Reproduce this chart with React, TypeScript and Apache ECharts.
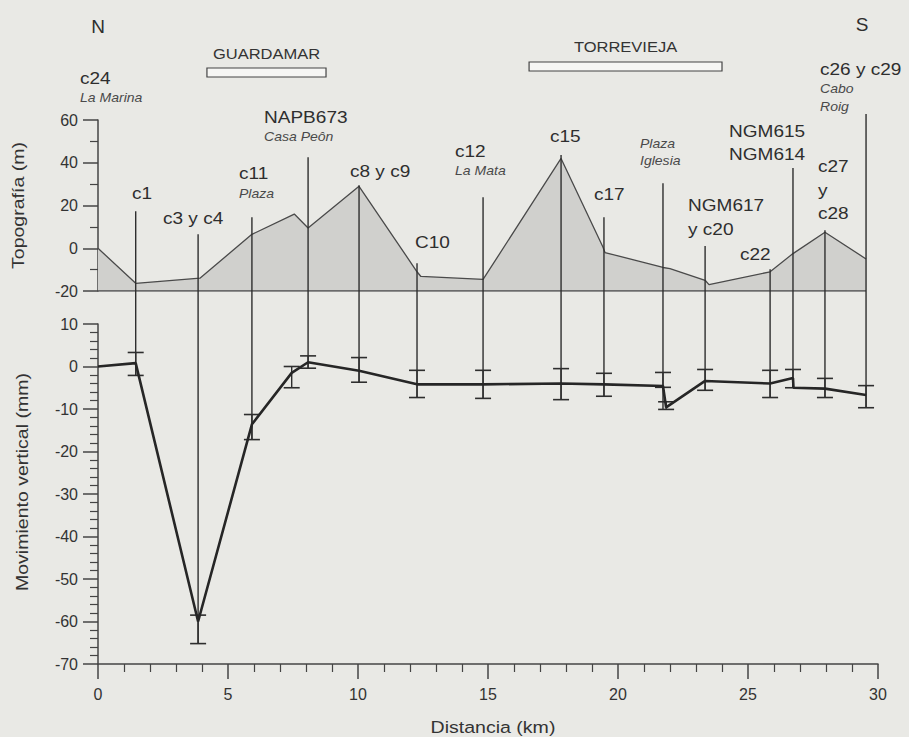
import React, { useEffect, useRef } from "react";
import * as echarts from "echarts";

// ---------- data ----------
// Topography profile (distance km, elevation m)
const TOPO_X = [0, 1.45, 3.92, 5.92, 7.55, 8.08, 10.04, 12.27, 12.42, 14.81, 17.81, 19.42, 19.5, 21.73, 22.0, 23.35, 23.5, 25.85, 26.73, 27.96, 29.54];
const TOPO_Y = [0, -16.4, -14, 6.5, 16, 9.5, 29, -11, -13.2, -14.6, 42, 0.6, -2, -9, -9.5, -15, -17, -11, -2.5, 7.5, -5];

// Vertical movement (distance km, mm)
const MOVE_X = [0, 1.45, 3.85, 5.92, 7.45, 8.08, 10.04, 12.27, 14.81, 17.81, 19.46, 21.73, 21.85, 23.35, 25.85, 26.73, 26.75, 27.96, 29.54];
const MOVE_Y = [0, 0.8, -60, -13.6, -1.5, 1.0, -1.0, -4.2, -4.2, -4.0, -4.2, -4.6, -9.6, -3.4, -4.0, -2.7, -5.0, -5.2, -6.7];

// Error bars (km, low mm, high mm)
const ERR_X = [1.45, 3.85, 5.92, 7.45, 8.08, 10.04, 12.27, 14.81, 17.81, 19.46, 21.73, 21.85, 23.35, 25.85, 26.73, 27.96, 29.54];
const ERR_LOW = [-2.1, -65.2, -17.2, -5.0, -0.4, -3.7, -7.3, -7.5, -7.8, -7.0, -4.9, -10.1, -5.6, -7.3, -5.0, -7.3, -9.7];
const ERR_HIGH = [3.3, -58.5, -11.3, 0.0, 2.5, 2.1, -0.9, -0.9, -0.5, -1.6, -1.4, -8.3, -0.7, -0.9, -0.7, -2.8, -4.5];

// Benchmark vertical lines (km, top in m of topography, bottom in mm of movement)
const BENCH_X = [1.45, 3.85, 5.92, 8.08, 10.04, 12.27, 14.81, 17.81, 19.46, 21.73, 23.35, 25.85, 26.73, 27.96, 29.54];
const BENCH_TOP = [17.3, 6.6, 14.5, 42.6, 29.5, -7, 23.9, 43.6, 14.5, 30.4, 1, -9.8, 37.5, 8.4, 62.8];
const BENCH_BOTTOM = [-2.1, -65.2, -17.2, -0.4, -3.7, -7.3, -7.5, -7.8, -7.0, -10.1, -5.6, -7.3, -5.0, -7.3, -9.7];

// Town extents (km)
const TOWN_NAMES = ["GUARDAMAR", "TORREVIEJA"];
const TOWN_FROM = [4.19, 16.58];
const TOWN_TO = [8.77, 24.0];

// Axis settings
const X_MIN = 0, X_MAX = 30, X_STEP = 5;
const TOPO_MIN = -20, TOPO_MAX = 60, TOPO_STEP = 20;
const MOVE_MIN = -70, MOVE_MAX = 10, MOVE_STEP = 10;

// Point labels
const MAIN_LABELS = ["c24", "c1", "c3 y c4", "c11", "NAPB673", "c8 y c9", "C10", "c12", "c15", "c17", "NGM617", "y c20", "NGM615", "NGM614", "c22", "c27", "y", "c28", "c26 y c29"];
const SUB_LABELS = ["La Marina", "Plaza", "Casa Peôn", "La Mata", "Plaza", "Iglesia", "Cabo", "Roig"];

// ---------- layout ----------
const W = 909, H = 737;
const G1 = { left: 98, top: 120, width: 780, height: 171 };
const G2 = { left: 98, top: 324, width: 780, height: 340 };
const GAP = G2.top - (G1.top + G1.height);
const MAIN_POS = [[80, 78], [132, 193], [163, 218], [239, 173], [264, 117], [350, 171], [415, 242], [455, 151], [550, 136], [594, 194], [688, 205], [688, 229], [729, 131], [729, 154], [740, 254], [818, 166], [818, 190], [818, 213], [820, 69]];
const SUB_POS = [[80, 98], [239, 194], [264, 137], [455, 171], [640, 144], [640, 161], [820, 89], [820, 107]];
const TOWN_BOX_Y = [68, 62];
const TOWN_TEXT_Y = [54, 47];

const FONT = "Liberation Sans, Arial, Helvetica, sans-serif";
const INK = "#2e2e2e";
const BG = "#e9e9e5";

export default function App() {
  const ref = useRef<HTMLDivElement>(null);
  useEffect(() => {
    document.body.style.margin = "0";
    document.body.style.background = BG;
    const chart = echarts.init(ref.current!, null, { renderer: "svg" });

    const axisLine = { show: true, onZero: false, lineStyle: { color: "#444", width: 1.5 } };
    const axisLabel = { color: "#333", fontSize: 16, fontFamily: FONT };

    const option: any = {
      animation: false,
      backgroundColor: BG,
      grid: [
        { ...G1, containLabel: false },
        { ...G2, containLabel: false },
      ],
      xAxis: [
        { type: "value", gridIndex: 0, min: X_MIN, max: X_MAX, show: false },
        {
          type: "value", gridIndex: 1, min: X_MIN, max: X_MAX, interval: X_STEP,
          axisLine, splitLine: { show: false },
          axisTick: { show: true, length: 15, lineStyle: { color: "#444", width: 1.5 } },
          minorTick: { show: true, splitNumber: 5, length: 8, lineStyle: { color: "#444", width: 1.2 } },
          axisLabel: { ...axisLabel, margin: 22 },
        },
      ],
      yAxis: [
        {
          type: "value", gridIndex: 0, min: TOPO_MIN, max: TOPO_MAX, interval: TOPO_STEP,
          axisLine, splitLine: { show: false },
          axisTick: { show: true, length: 15, lineStyle: { color: "#444", width: 1.5 } },
          minorTick: { show: true, splitNumber: 2, length: 8, lineStyle: { color: "#444", width: 1.2 } },
          axisLabel: { ...axisLabel, margin: 20 },
        },
        {
          type: "value", gridIndex: 1, min: MOVE_MIN, max: MOVE_MAX, interval: MOVE_STEP,
          axisLine, splitLine: { show: false },
          axisTick: { show: true, length: 15, lineStyle: { color: "#444", width: 1.5 } },
          minorTick: { show: true, splitNumber: 5, length: 8, lineStyle: { color: "#444", width: 1.2 } },
          axisLabel: { ...axisLabel, margin: 20 },
        },
      ],
      series: [
        {
          type: "line", xAxisIndex: 0, yAxisIndex: 0,
          data: TOPO_X.map((x, i) => [x, TOPO_Y[i]]),
          showSymbol: false, symbol: "none",
          lineStyle: { color: "#4a4a4a", width: 1.3 },
          areaStyle: { color: "#d0d0cd", origin: "start", opacity: 1 },
          z: 1,
        },
        {
          type: "line", xAxisIndex: 0, yAxisIndex: 0,
          data: [[TOPO_X[0], TOPO_MIN], [TOPO_X[TOPO_X.length - 1], TOPO_MIN]],
          showSymbol: false, symbol: "none",
          lineStyle: { color: "#4a4a4a", width: 1.3 },
          z: 2,
        },
        {
          type: "custom", xAxisIndex: 0, yAxisIndex: 0,
          data: BENCH_X.map((x, i) => [x, BENCH_TOP[i]]),
          renderItem: (params: any, api: any) => {
            const p = api.coord([api.value(0), api.value(1)]);
            const cs = params.coordSys;
            return {
              type: "line",
              shape: { x1: p[0], y1: p[1], x2: p[0], y2: cs.y + cs.height },
              style: { stroke: INK, lineWidth: 1.4 },
            };
          },
          z: 3,
        },
        {
          type: "custom", xAxisIndex: 1, yAxisIndex: 1,
          data: BENCH_X.map((x, i) => [x, BENCH_BOTTOM[i]]),
          renderItem: (params: any, api: any) => {
            const p = api.coord([api.value(0), api.value(1)]);
            const cs = params.coordSys;
            return {
              type: "line",
              shape: { x1: p[0], y1: cs.y - GAP, x2: p[0], y2: p[1] },
              style: { stroke: INK, lineWidth: 1.4 },
            };
          },
          z: 3,
        },
        {
          type: "custom", xAxisIndex: 1, yAxisIndex: 1,
          data: ERR_X.map((x, i) => [x, ERR_LOW[i], ERR_HIGH[i]]),
          renderItem: (params: any, api: any) => {
            const lo = api.coord([api.value(0), api.value(1)]);
            const hi = api.coord([api.value(0), api.value(2)]);
            const hw = 8;
            return {
              type: "group",
              children: [
                { type: "line", shape: { x1: lo[0], y1: lo[1], x2: hi[0], y2: hi[1] }, style: { stroke: INK, lineWidth: 1.4 } },
                { type: "line", shape: { x1: lo[0] - hw, y1: lo[1], x2: lo[0] + hw, y2: lo[1] }, style: { stroke: INK, lineWidth: 1.6 } },
                { type: "line", shape: { x1: hi[0] - hw, y1: hi[1], x2: hi[0] + hw, y2: hi[1] }, style: { stroke: INK, lineWidth: 1.6 } },
              ],
            };
          },
          z: 4,
        },
        {
          type: "line", xAxisIndex: 1, yAxisIndex: 1,
          data: MOVE_X.map((x, i) => [x, MOVE_Y[i]]),
          showSymbol: false, symbol: "none",
          lineStyle: { color: "#262626", width: 2.6 },
          z: 5,
        },
      ],
    };
    chart.setOption(option);

    const graphic: any[] = [];
    // Axis titles
    graphic.push({ type: "text", x: 18, y: G1.top + G1.height / 2, rotation: Math.PI / 2, scaleX: 1.15,
      style: { text: "Topografía (m)", font: `17px ${FONT}`, fill: "#333", align: "center", verticalAlign: "middle" } });
    graphic.push({ type: "text", x: 22, y: 482, rotation: Math.PI / 2, scaleX: 1.15,
      style: { text: "Movimiento vertical (mm)", font: `17px ${FONT}`, fill: "#333", align: "center", verticalAlign: "middle" } });
    graphic.push({ type: "text", x: 493, y: 727, scaleX: 1.15,
      style: { text: "Distancia (km)", font: `17px ${FONT}`, fill: "#333", align: "center", verticalAlign: "middle" } });
    // Compass
    graphic.push({ type: "text", x: 98, y: 26, style: { text: "N", font: `19px ${FONT}`, fill: INK, align: "center", verticalAlign: "middle" } });
    graphic.push({ type: "text", x: 862, y: 24, style: { text: "S", font: `19px ${FONT}`, fill: INK, align: "center", verticalAlign: "middle" } });
    // Towns
    TOWN_NAMES.forEach((name, i) => {
      const x0 = chart.convertToPixel({ xAxisIndex: 1 }, TOWN_FROM[i]) as number;
      const x1 = chart.convertToPixel({ xAxisIndex: 1 }, TOWN_TO[i]) as number;
      graphic.push({ type: "rect", shape: { x: x0, y: TOWN_BOX_Y[i], width: x1 - x0, height: 9 },
        style: { fill: "#f6f6f4", stroke: "#444", lineWidth: 1.2 } });
      graphic.push({ type: "text", x: (x0 + x1) / 2, y: TOWN_TEXT_Y[i], scaleX: 1.1,
        style: { text: name, font: `15px ${FONT}`, fill: "#333", align: "center", verticalAlign: "middle" } });
    });
    MAIN_LABELS.forEach((t, i) => {
      graphic.push({ type: "text", x: MAIN_POS[i][0], y: MAIN_POS[i][1], scaleX: 1.12,
        style: { text: t, font: `17px ${FONT}`, fill: INK, align: "left", verticalAlign: "middle" } });
    });
    SUB_LABELS.forEach((t, i) => {
      graphic.push({ type: "text", x: SUB_POS[i][0], y: SUB_POS[i][1], scaleX: 1.08,
        style: { text: t, font: `italic 13px ${FONT}`, fill: "#4a4a4a", align: "left", verticalAlign: "middle" } });
    });
    chart.setOption({ graphic });

    return () => chart.dispose();
  }, []);
  return <div ref={ref} style={{ width: W, height: H }} />;
}
